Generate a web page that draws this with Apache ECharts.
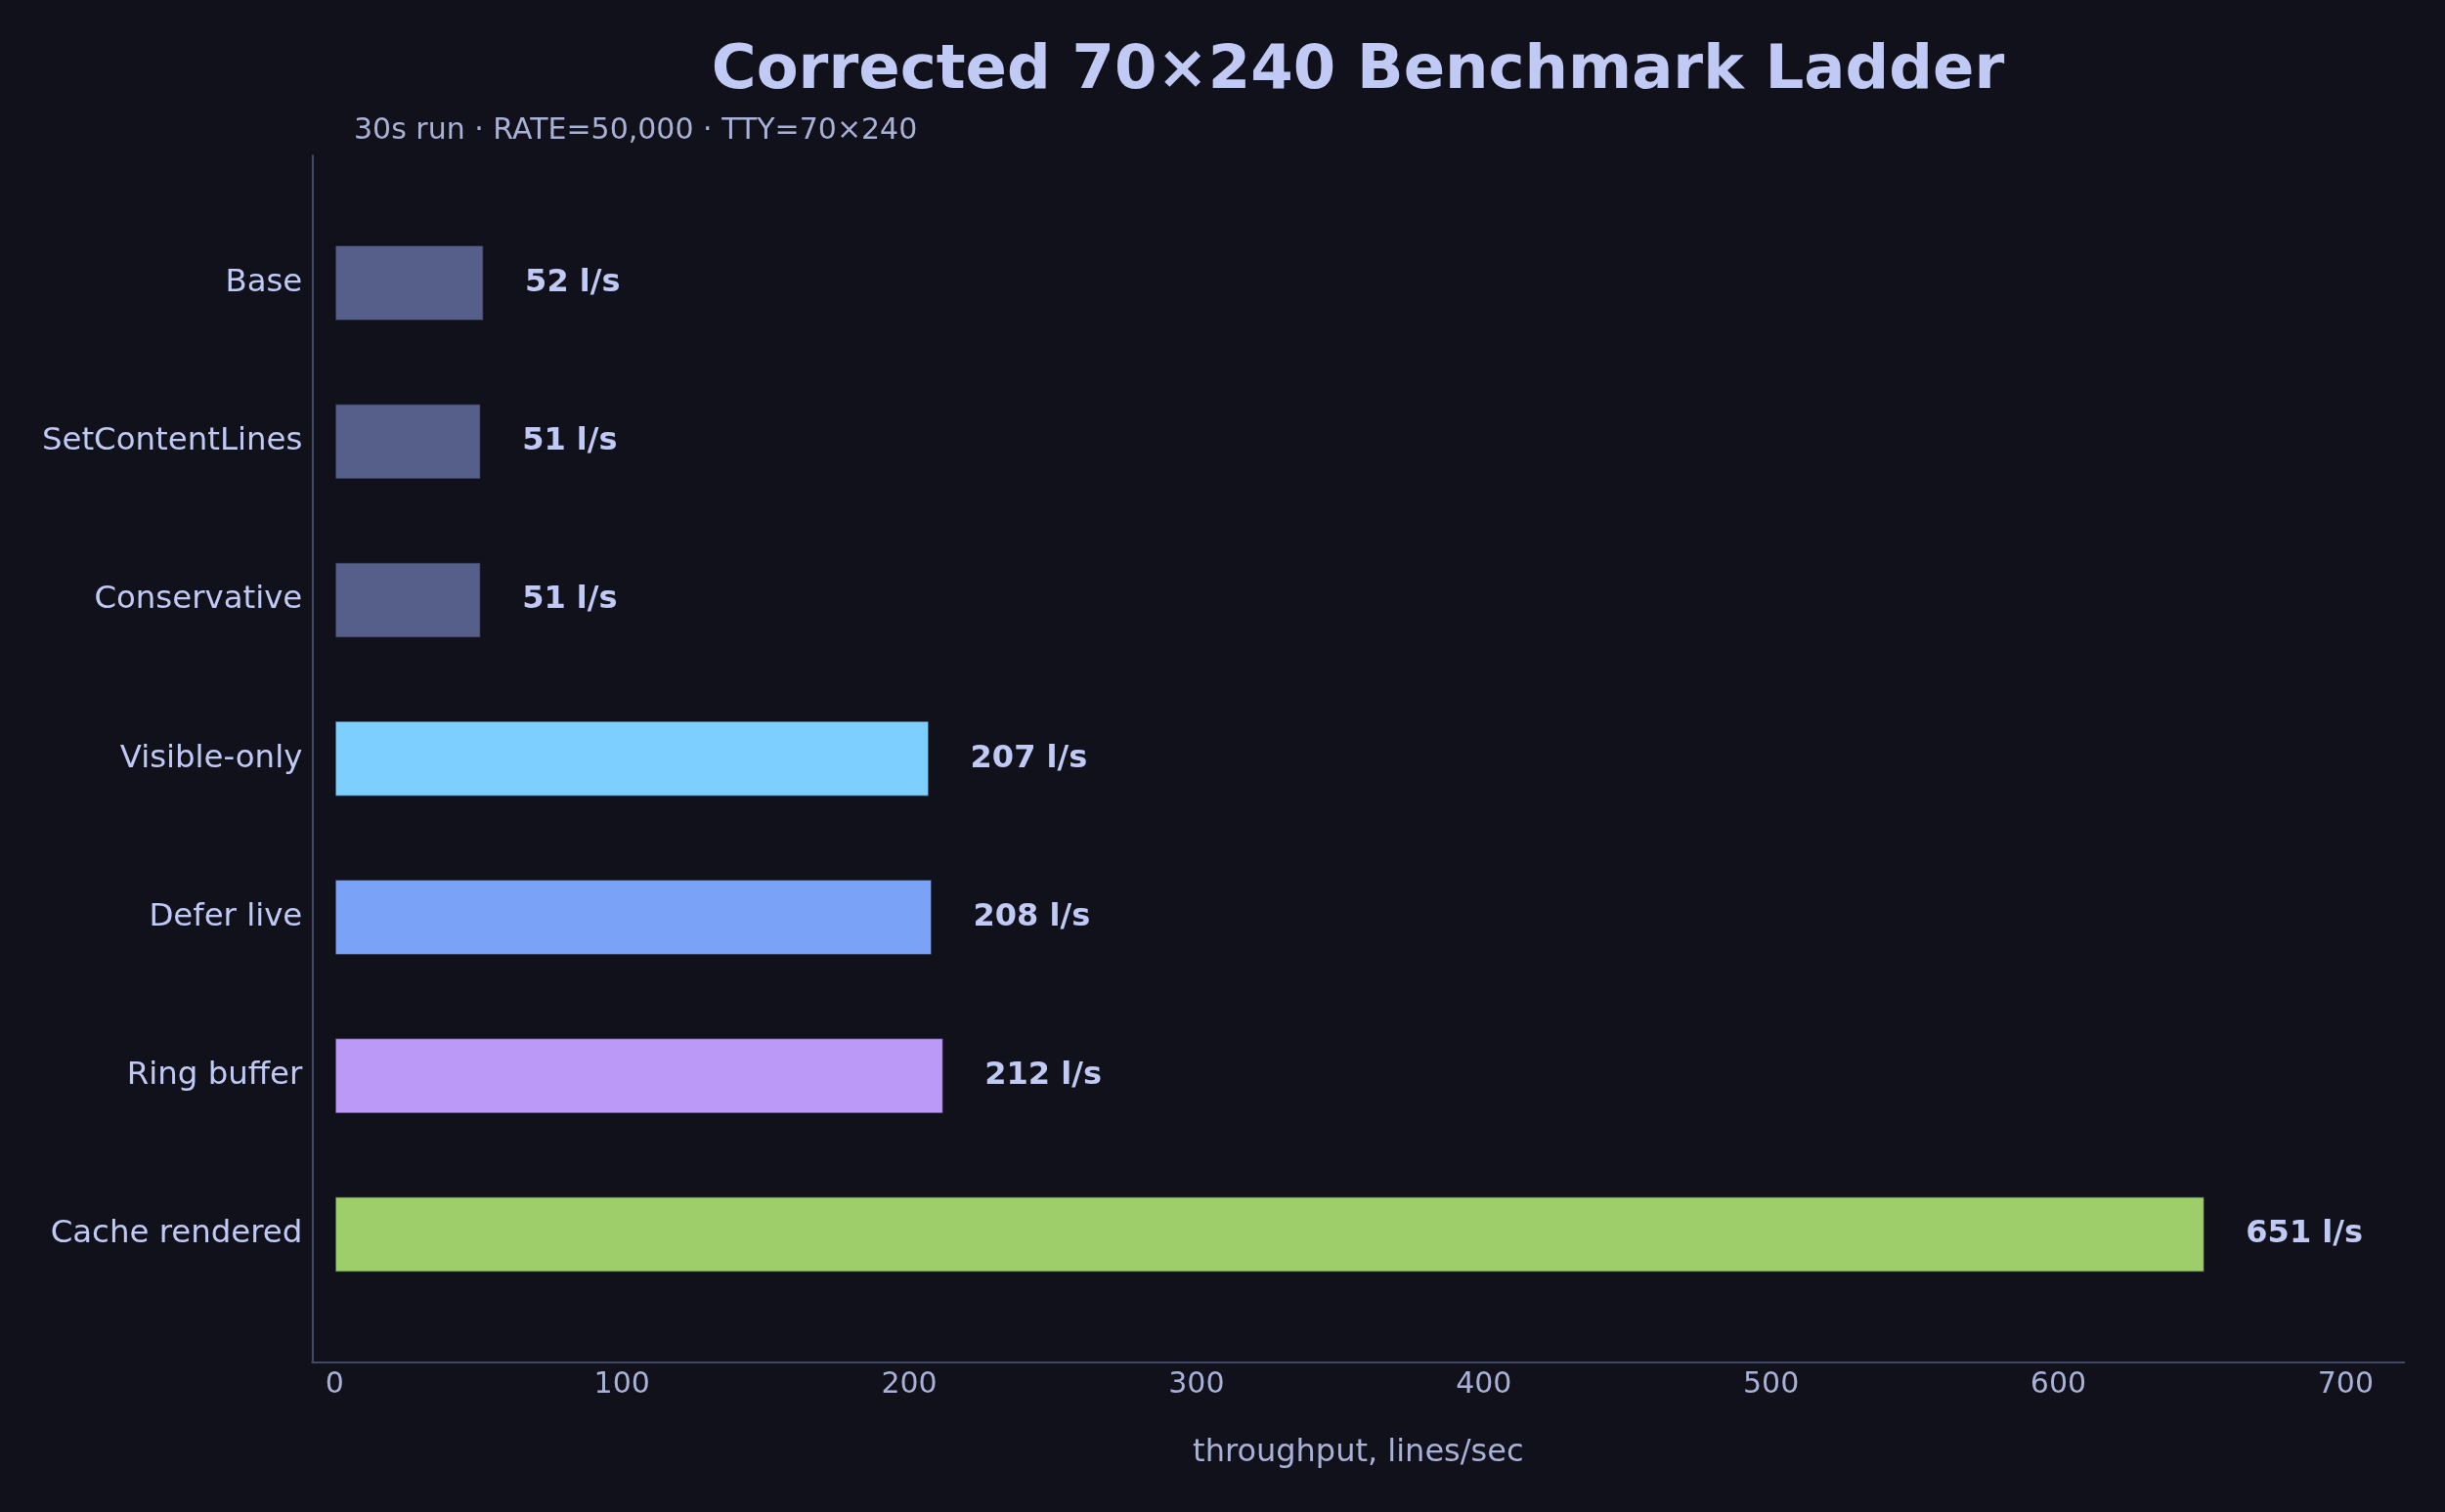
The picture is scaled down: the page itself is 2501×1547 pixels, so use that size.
<!DOCTYPE html>
<html>
<head>
<meta charset="utf-8">
<title>Corrected 70×240 Benchmark Ladder</title>
<script src="https://cdn.jsdelivr.net/npm/echarts@6/dist/echarts.min.js"></script>
<style>
	html,body{margin:0;padding:0;background:#11111c;}
	#chart{width:2501px;height:1547px;}
</style>
</head>
<body>
<div id="chart"></div>
<script>
var categories = ['Base','SetContentLines','Conservative','Visible-only','Defer live','Ring buffer','Cache rendered'];
var throughput = [52, 51, 51, 207, 208, 212, 651];
var barColors = ['#565f89','#565f89','#565f89','#7dcfff','#7aa2f7','#bb9af7','#9ece6a'];
var xTicks = [0, 100, 200, 300, 400, 500, 600, 700];

var X_MIN = -7.83, X_MAX = 720.4;     //matplotlib xlim

function getChartOptions(){
	var font = 'DejaVu Sans';
	var barData = throughput.map(function(v, i){
		return {value: v, itemStyle: {color: barColors[i]}};
	});
	var option = {
		animation: false,
		backgroundColor: '#11111c',
		textStyle: {fontFamily: font},
		title: [
			{
				text: 'Corrected 70×240 Benchmark Ladder',
				left: 1389,
				top: 43,
				padding: 0,
				textAlign: 'center',
				textStyle: {fontSize: 62.5, fontWeight: 'bold', color: '#c0caf5', fontFamily: font, lineHeight: 62}
			},
			{
				text: '30s run · RATE=50,000 · TTY=70×240',
				left: 362,
				top: 119,
				padding: 0,
				textStyle: {fontSize: 30, fontWeight: 'normal', color: '#a9b1d6', fontFamily: font, lineHeight: 30}
			}
		],
		// grid 0 holds the bars, grid 1 only draws the frame / x ticks
		grid: [
			{left: 319.3, right: 41.7, top: 208.4, bottom: 202.9, containLabel: false, outerBoundsMode: 'none'},
			{left: 319.3, right: 41.7, top: 159.3, bottom: 153.7, containLabel: false, outerBoundsMode: 'none'}
		],
		xAxis: [
			{
				type: 'value',
				gridIndex: 0,
				min: X_MIN,
				max: X_MAX,
				show: false
			},
			{
				type: 'value',
				gridIndex: 1,
				min: X_MIN,
				max: X_MAX,
				name: 'throughput, lines/sec',
				nameLocation: 'middle',
				nameGap: 77,
				nameTextStyle: {fontSize: 32, color: '#a9b1d6', fontFamily: font},
				axisLine: {show: true, onZero: false, lineStyle: {color: '#414868', width: 2}},
				axisTick: {show: false},
				splitLine: {show: false},
				axisLabel: {
					customValues: xTicks,
					fontSize: 30,
					color: '#a9b1d6',
					margin: 9,
					showMinLabel: true,
					showMaxLabel: true
				}
			}
		],
		yAxis: [
			{
				type: 'category',
				gridIndex: 0,
				inverse: true,
				data: categories,
				axisLine: {show: false},
				axisTick: {show: false},
				splitLine: {show: false},
				axisLabel: {fontSize: 32.4, color: '#c0caf5', margin: 10, padding: [10, 0, 0, 0]}
			},
			{
				type: 'value',
				gridIndex: 1,
				min: 0,
				max: 1,
				axisLine: {show: true, onZero: false, lineStyle: {color: '#414868', width: 2}},
				axisTick: {show: false},
				splitLine: {show: false},
				axisLabel: {show: false}
			}
		],
		series: [
			{
				name: 'throughput',
				type: 'bar',
				xAxisIndex: 0,
				yAxisIndex: 0,
				barWidth: 78,
				data: barData,
				itemStyle: {borderColor: 'rgba(17,17,28,0.6)', borderWidth: 1.5},
				label: {
					show: true,
					position: 'right',
					distance: 42,
					formatter: '{c} l/s',
					fontSize: 32,
					fontWeight: 'bold',
					color: '#c0caf5',
					fontFamily: font,
					padding: [3, 0, 0, 0]
				}
			}
		]
	};
	return option;
}

function init(){
	var myChart = echarts.init(document.getElementById('chart'), null, {renderer: 'canvas'});
	myChart.setOption(getChartOptions());
}
init();
</script>
</body>
</html>
